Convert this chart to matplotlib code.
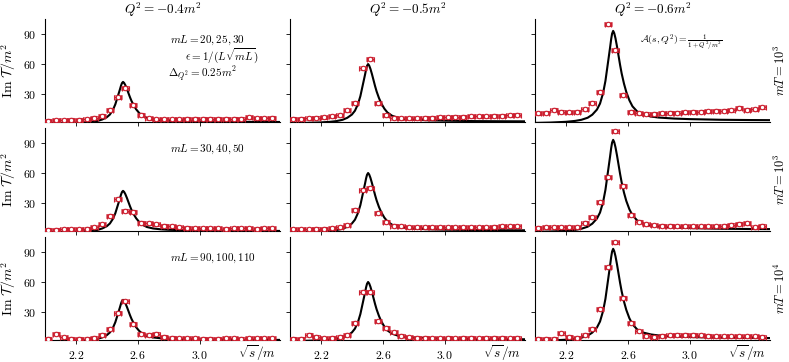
import matplotlib
matplotlib.use("Agg")
import matplotlib.pyplot as plt
from matplotlib.path import Path

plt.rcParams['mathtext.fontset'] = 'cm'
plt.rcParams['font.family'] = 'serif'
plt.rcParams['font.serif'] = ['cmr10']
plt.rcParams['axes.formatter.use_mathtext'] = True

# energies of the lattice points (same grid in every panel)
x_pts = [2.02, 2.07, 2.12, 2.17, 2.22, 2.27, 2.32, 2.37, 2.42, 2.47,
         2.52, 2.57, 2.62, 2.67, 2.72, 2.77, 2.82, 2.87, 2.92, 2.97,
         3.02, 3.07, 3.12, 3.17, 3.22, 3.27, 3.32, 3.37, 3.42, 3.47]

# row 1 (mT = 10^3, mL = 20,25,30)
y_r1c1 = [3, 3.2, 3.5, 3.8, 4, 4.5, 6, 8, 14, 26.5,
          36, 19, 9, 5.5, 4.5, 4.3, 4.5, 4.5, 4.8, 4.8,
          5, 5, 5, 5, 5, 5, 6.5, 5.5, 5.5, 6]
y_r1c2 = [5, 5, 5.5, 6, 6.5, 7.5, 8.5, 13.5, 21, 56,
          65.5, 20.5, 8.5, 6, 5.5, 5.5, 5.5, 5.8, 6, 6.2,
          6.5, 6.8, 7, 7.2, 7.5, 7.5, 7.8, 8, 8.5, 9]
y_r1c3 = [10.5, 11, 14, 12, 11.5, 12, 14.5, 21, 32, 100,
          74, 29, 12, 10.5, 10, 10, 10.5, 11, 11, 11.5,
          12, 12, 12.5, 13, 13, 13.5, 16, 14, 14.5, 16.5]

# row 2 (mT = 10^3, mL = 30,40,50)
y_r2c1 = [2.5, 2.7, 3, 3, 3, 3.5, 5, 8.5, 17, 34,
          22, 21, 10, 9.5, 8.5, 7, 6, 5, 4.7, 4.2,
          4, 4, 4.3, 3.8, 4, 4, 4.2, 3.8, 4, 4.2]
y_r2c2 = [3, 3, 3.2, 3.5, 3.5, 4, 5, 7.5, 23, 43,
          45, 20, 11, 7, 6, 5.5, 5.5, 5, 5, 5,
          5, 5.2, 5.2, 5.5, 5.5, 5.5, 5.8, 6, 6, 6.2]
y_r2c3 = [4.5, 5, 5, 5, 5, 5.5, 10, 15.5, 30.5, 56,
          102, 47, 18, 11, 8.5, 7.5, 7, 7, 6.5, 6.5,
          6, 6, 6, 6.5, 7, 8, 9, 9.5, 5, 7]

# row 3 (mT = 10^4, mL = 90,100,110)
y_r3c1 = [2.5, 7.5, 4, 2.5, 2.5, 2.5, 3.5, 6.5, 13, 29,
          40.5, 18, 7.5, 6.5, 7.5, 4.5, 3.5, 3, 3, 3,
          2.8, 2.8, 2.8, 3, 3, 2.8, 3, 3, 3, 3]
y_r3c2 = [2.5, 2.5, 6.5, 4.5, 3, 3.5, 4.5, 6.5, 19, 50,
          50, 20.5, 14, 9.5, 5.5, 4, 3.5, 3.5, 3.2, 3.2,
          3.5, 3.2, 3.5, 3.5, 3.2, 3.5, 3.5, 3.5, 3.2, 3.5]
y_r3c3 = [2.5, 2.5, 2.5, 8, 4.5, 3.5, 6.5, 13, 33, 75,
          100, 44, 19, 10.5, 5.5, 4.5, 5.5, 6, 6.5, 6.5,
          6.5, 6, 5.5, 5, 5, 5, 5, 5, 5, 4.5]

y_err = 1.5

# exact curve, read as shape (peak = 1) and peak height per column
curve_x = [2.00, 2.10, 2.20, 2.26, 2.30, 2.34, 2.37, 2.40, 2.42, 2.44,
           2.455, 2.465, 2.475, 2.485, 2.492, 2.498, 2.505, 2.512, 2.52, 2.53,
           2.54, 2.55, 2.56, 2.575, 2.59, 2.61, 2.63, 2.66, 2.70, 2.75,
           2.80, 2.90, 3.00, 3.20, 3.40, 3.52]
curve_shape = [0.006, 0.010, 0.018, 0.028, 0.040, 0.062, 0.095, 0.150, 0.215, 0.330,
               0.460, 0.580, 0.700, 0.820, 0.910, 0.970, 1.000, 0.975, 0.920, 0.830,
               0.730, 0.630, 0.540, 0.430, 0.340, 0.250, 0.185, 0.130, 0.095, 0.075,
               0.064, 0.053, 0.047, 0.040, 0.037, 0.036]
peak_heights = [42, 60, 93.5]

col_titles = [r'$Q^2 = -0.4m^2$', r'$Q^2 = -0.5m^2$', r'$Q^2 = -0.6m^2$']
row_labels = [r'$mT = 10^3$', r'$mT = 10^3$', r'$mT = 10^4$']
mL_labels = [r'$mL = 20, 25, 30$', r'$mL = 30, 40, 50$', r'$mL = 90, 100, 110$']

panels = [[y_r1c1, y_r1c2, y_r1c3],
          [y_r2c1, y_r2c2, y_r2c3],
          [y_r3c1, y_r3c2, y_r3c3]]

red = '#cc1f2f'
box = Path([(-1, -0.65), (1, -0.65), (1, 0.65), (-1, 0.65), (-1, -0.65)])

fig, axes = plt.subplots(3, 3, figsize=(7.89, 3.62), dpi=100, sharex=True, sharey=True)
fig.subplots_adjust(left=0.057, right=0.976, bottom=0.061, top=0.9475,
                    wspace=0.043, hspace=0.058)

for r in range(3):
    for c in range(3):
        ax = axes[r, c]
        curve = [s * peak_heights[c] for s in curve_shape]
        ax.plot(curve_x, curve, color='black', lw=1.5, zorder=2)
        ax.scatter(x_pts, panels[r][c], marker=box, s=30, facecolor=red,
                   edgecolor=red, alpha=0.5, lw=0.6, zorder=3)
        ax.errorbar(x_pts, panels[r][c], xerr=0.021, yerr=y_err, fmt='o',
                    ms=3.2, mfc='white', mec=red, mew=0.8, ecolor=red,
                    elinewidth=0.9, capsize=1.8, capthick=0.9, zorder=4)

        ax.set_xlim(2.0, 3.52)
        ax.set_ylim(1.5, 105.5)
        ax.set_xticks([2.2, 2.6, 3.0])
        ax.set_yticks([30, 60, 90])
        ax.spines['top'].set_visible(False)
        ax.spines['right'].set_visible(False)
        ax.tick_params(direction='out', length=3, width=0.6, labelsize=8.5)

        if r == 0:
            ax.set_title(col_titles[c], fontsize=9.5, pad=3)
        if c == 0:
            ax.set_ylabel(r'$\mathrm{Im}\ \mathcal{T}/m^2$', fontsize=10, labelpad=3)
            ax.text(0.532, 0.79, mL_labels[r], transform=ax.transAxes,
                    va='center', fontsize=8)
        if c == 2:
            ax.text(1.045, 0.5, row_labels[r], transform=ax.transAxes, rotation=90,
                    va='center', ha='center', fontsize=9)
        if r == 2:
            ax.text(0.985, -0.03, r'$\sqrt{s}/m$', transform=ax.transAxes,
                    ha='right', va='top', fontsize=9.5)

axes[0, 0].text(0.596, 0.645, r'$\epsilon = 1/(L\sqrt{mL})$', va='center',
                transform=axes[0, 0].transAxes, fontsize=8)
axes[0, 0].text(0.523, 0.46, r'$\Delta_{Q^2} = 0.25m^2$', va='center',
                transform=axes[0, 0].transAxes, fontsize=8)
axes[0, 2].text(0.447, 0.77, r'$\mathcal{A}(s,Q^2) = \frac{1}{1+Q^2/m^2}$',
                va='center', transform=axes[0, 2].transAxes, fontsize=7)

fig.savefig('out.png', dpi=100)
